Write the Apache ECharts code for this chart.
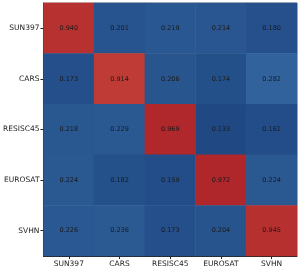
<!DOCTYPE html>
<html><head><meta charset="utf-8">
<script src="https://cdn.jsdelivr.net/npm/echarts@6/dist/echarts.min.js"></script>
<style>html,body{margin:0;padding:0;background:#fff}#c{width:299px;height:270px}</style>
</head><body><div id="c"></div>
<script>
const categories = ['SUN397', 'CARS', 'RESISC45', 'EUROSAT', 'SVHN'];
const rowSUN397   = [0.940, 0.201, 0.219, 0.214, 0.180];
const rowCARS     = [0.173, 0.914, 0.206, 0.174, 0.282];
const rowRESISC45 = [0.218, 0.229, 0.969, 0.133, 0.161];
const rowEUROSAT  = [0.224, 0.182, 0.159, 0.972, 0.224];
const rowSVHN     = [0.226, 0.236, 0.173, 0.204, 0.945];
const rows = [rowSUN397, rowCARS, rowRESISC45, rowEUROSAT, rowSVHN];

const data = [];
rows.forEach((r, yi) => r.forEach((v, xi) => data.push([xi, yi, v])));

const chart = echarts.init(document.getElementById('c'), null, {renderer: 'canvas'});
const font = 'DejaVu Sans';
chart.setOption({
  animation: false,
  grid: {left: 42, right: 2, top: 3, bottom: 14, show: true, borderColor: '#888', borderWidth: 1, backgroundColor: 'transparent'},
  xAxis: {
    type: 'category', data: categories, position: 'bottom',
    axisLine: {show: true, lineStyle: {color: '#222', width: 1}},
    axisTick: {show: true, alignWithLabel: true, length: 3, lineStyle: {color: '#222'}},
    axisLabel: {fontFamily: font, fontSize: 7.5, color: '#222', margin: 4, interval: 0},
    splitLine: {show: false}
  },
  yAxis: {
    type: 'category', data: categories, inverse: true,
    axisLine: {show: true, lineStyle: {color: '#222', width: 1}},
    axisTick: {show: true, alignWithLabel: true, length: 3, lineStyle: {color: '#222'}},
    axisLabel: {fontFamily: font, fontSize: 7.5, color: '#222', margin: 4, interval: 0},
    splitLine: {show: false}
  },
  visualMap: {
    show: false, type: 'continuous', min: 0.1, max: 1.0, dimension: 2,
    inRange: {color: ['#1c4480', '#26528c', '#30619a', '#6a8fb8', '#b8c8dc', '#e6c4bb', '#e0907f', '#d8695a', '#d35a4d', '#c03c36', '#a81c26']}
  },
  series: [{
    type: 'heatmap', data: data,
    label: {show: true, fontFamily: font, fontSize: 6.5, color: '#1a1a1a',
      formatter: p => p.value[2].toFixed(3)},
    itemStyle: {borderWidth: 0}
  }]
});
</script></body></html>
